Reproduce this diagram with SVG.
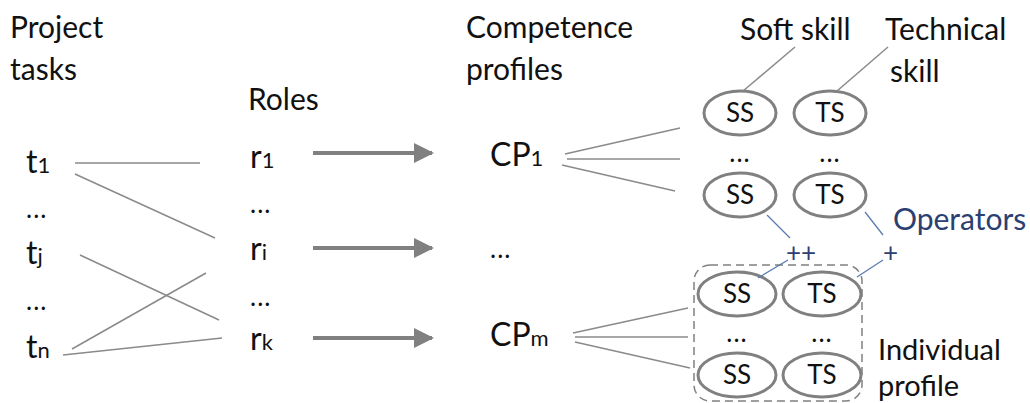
<svg xmlns="http://www.w3.org/2000/svg" width="1030" height="403" viewBox="0 0 1030 403">
<style>
text{font-family:Lato,"Liberation Sans",sans-serif;font-size:30px;fill:#111}
.big{font-size:32px}
.sub{font-size:22px}
.blue{fill:#2b3f73}
.ell{fill:#fff;stroke:#808080;stroke-width:3}
.el text{font-size:26px;text-anchor:middle}
.ln{stroke:#8a8a8a;stroke-width:1.5;fill:none}
.bl{stroke:#5b7bb0;stroke-width:1.3;fill:none}
.arr{stroke:#808080;stroke-width:4;fill:none}
.dots{font-size:26px;letter-spacing:1px}
</style>
<defs>
<marker id="ah" viewBox="0 0 10 10" refX="9" refY="5" markerWidth="5" markerHeight="5" orient="auto" markerUnits="strokeWidth">
<path d="M0,0 L10,5 L0,10 z" fill="#808080"/>
</marker>
</defs>
<g id="headers">
<text x="10" y="38">Project</text>
<text x="10" y="80">tasks</text>
<text x="248" y="110">Roles</text>
<text x="466" y="38">Competence</text>
<text x="466" y="80">profiles</text>
<text x="740" y="40">Soft skill</text>
<text x="885" y="40">Technical</text>
<text x="890" y="82">skill</text>
<text class="blue" x="893" y="230">Operators</text>
<text x="878" y="360" style="font-size:29px">Individual</text>
<text x="878" y="396" style="font-size:29px">profile</text>
</g>
<g id="tasks">
<text class="big" x="26" y="173">t<tspan class="sub">1</tspan></text>
<text class="dots" x="26" y="218">...</text>
<text class="big" x="26" y="264">t<tspan class="sub">j</tspan></text>
<text class="dots" x="26" y="310">...</text>
<text class="big" x="26" y="358">t<tspan class="sub">n</tspan></text>
</g>
<g id="roles">
<text class="big" x="250" y="168">r<tspan class="sub">1</tspan></text>
<text class="dots" x="250" y="213">...</text>
<text class="big" x="250" y="260">r<tspan class="sub">i</tspan></text>
<text class="dots" x="250" y="306">...</text>
<text class="big" x="250" y="350">r<tspan class="sub">k</tspan></text>
</g>
<g id="profiles">
<text class="big" x="490" y="166">CP<tspan class="sub">1</tspan></text>
<text class="dots" x="490" y="258">...</text>
<text class="big" x="490" y="346">CP<tspan class="sub">m</tspan></text>
</g>
<g id="individual-profile">
<rect x="694" y="265" width="168" height="136" rx="16" fill="none" stroke="#808080" stroke-width="1.5" stroke-dasharray="8,5"/>
</g>
<g id="skills" class="el">
<ellipse class="ell" cx="740" cy="113" rx="36" ry="22"/><text x="740" y="122">SS</text>
<ellipse class="ell" cx="830" cy="113" rx="36" ry="22"/><text x="830" y="122">TS</text>
<text class="dots" x="740" y="162">...</text>
<text class="dots" x="830" y="162">...</text>
<ellipse class="ell" cx="740" cy="195" rx="36" ry="22"/><text x="740" y="204">SS</text>
<ellipse class="ell" cx="830" cy="195" rx="36" ry="22"/><text x="830" y="204">TS</text>
<ellipse class="ell" cx="737" cy="294" rx="39" ry="22"/><text x="737" y="303">SS</text>
<ellipse class="ell" cx="822" cy="294" rx="39" ry="22"/><text x="822" y="303">TS</text>
<text class="dots" x="737" y="342">...</text>
<text class="dots" x="822" y="342">...</text>
<ellipse class="ell" cx="737" cy="375" rx="39" ry="22"/><text x="737" y="384">SS</text>
<ellipse class="ell" cx="822" cy="375" rx="39" ry="22"/><text x="822" y="384">TS</text>
</g>
<g id="operators">
<text class="blue" x="786" y="262" style="font-size:26px">++</text>
<text class="blue" x="883" y="262" style="font-size:26px">+</text>
</g>
<g id="connectors">
<line class="ln" x1="75" y1="163" x2="200" y2="163"/>
<line class="ln" x1="75" y1="174" x2="215" y2="238"/>
<line class="ln" x1="80" y1="255" x2="219" y2="320"/>
<line class="ln" x1="72" y1="349" x2="206" y2="273"/>
<line class="ln" x1="63" y1="355" x2="222" y2="338"/>
<line class="arr" x1="313" y1="153" x2="432" y2="153" marker-end="url(#ah)"/>
<line class="arr" x1="313" y1="248" x2="432" y2="248" marker-end="url(#ah)"/>
<line class="arr" x1="313" y1="338" x2="432" y2="338" marker-end="url(#ah)"/>
<line class="ln" x1="565" y1="154" x2="680" y2="128"/>
<line class="ln" x1="567" y1="159" x2="680" y2="159"/>
<line class="ln" x1="562" y1="165" x2="675" y2="191"/>
<line class="ln" x1="573" y1="333" x2="688" y2="308"/>
<line class="ln" x1="575" y1="337" x2="688" y2="337"/>
<line class="ln" x1="575" y1="342" x2="690" y2="368"/>
<line class="ln" x1="795" y1="47" x2="743" y2="91"/>
<line class="ln" x1="888" y1="47" x2="837" y2="91"/>
<line class="bl" x1="767" y1="215" x2="790" y2="238"/>
<line class="bl" x1="788" y1="260" x2="758" y2="278"/>
<line class="bl" x1="865" y1="212" x2="883" y2="235"/>
<line class="bl" x1="883" y1="260" x2="857" y2="277"/>
</g>
</svg>
